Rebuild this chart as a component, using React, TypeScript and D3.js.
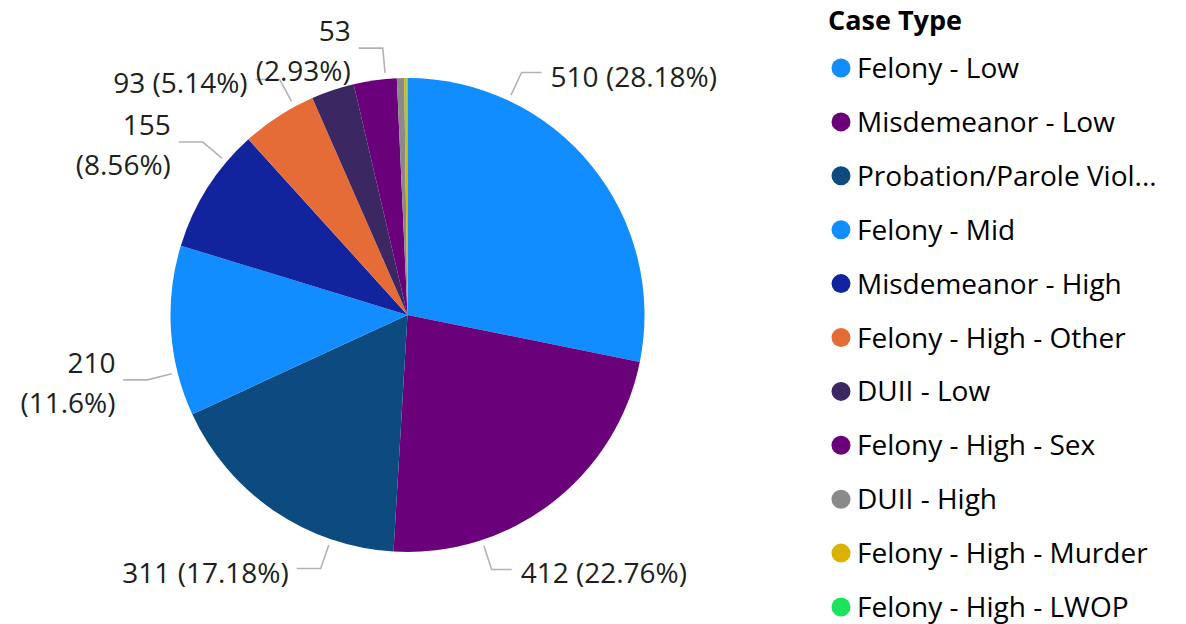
import React from "react";
import * as d3 from "d3";

const categories = [
  "Felony - Low",
  "Misdemeanor - Low",
  "Probation/Parole Violation",
  "Felony - Mid",
  "Misdemeanor - High",
  "Felony - High - Other",
  "DUII - Low",
  "Felony - High - Sex",
  "DUII - High",
  "Felony - High - Murder",
  "Felony - High - LWOP",
];
const values = [510, 412, 311, 210, 155, 93, 53, 53, 9, 3, 1];
const colors = [
  "#118DFF",
  "#6B007B",
  "#0C4A80",
  "#118DFF",
  "#12239E",
  "#E66C37",
  "#3B2862",
  "#6B007B",
  "#8A8A8A",
  "#D9B300",
  "#1BE35E",
];
const legendLabels = [
  "Felony - Low",
  "Misdemeanor - Low",
  "Probation/Parole Viol...",
  "Felony - Mid",
  "Misdemeanor - High",
  "Felony - High - Other",
  "DUII - Low",
  "Felony - High - Sex",
  "DUII - High",
  "Felony - High - Murder",
  "Felony - High - LWOP",
];
const legendTitle = "Case Type";

// label layout: leader angle (degrees clockwise from 12 o'clock), two-line wrap, or null if unlabeled
const labelAngles: (number | null)[] = [25.2, 161.7, 198.9, 256, 310.2, 331.5, null, 354.7, null, null, null];
const labelWrap = [false, false, false, true, true, false, false, true, false, false, false];

const W = 1186;
const H = 624;
const FONT = "'Open Sans', 'Noto Sans', sans-serif";

export default function App() {
  const cx = 407.5;
  const cy = 315;
  const R = 237;
  const total = d3.sum(values);
  const pie = d3
    .pie<number>()
    .sort(null)
    .value((d) => d)
    .startAngle(0)
    .endAngle(2 * Math.PI);
  const arcs = pie(values);
  const arc = d3.arc<d3.PieArcDatum<number>>().innerRadius(0).outerRadius(R);
  const fmt = (v: number) => {
    const p = (v / total) * 100;
    const s = d3.format(".2f")(p).replace(/0+$/, "").replace(/\.$/, "");
    return `(${s}%)`;
  };

  const legendY = d3
    .scaleLinear()
    .domain([0, categories.length - 1])
    .range([68, 607]);

  const labels = arcs.map((a, i) => {
    const ang = labelAngles[i];
    if (ang == null) return null;
    const t = (ang * Math.PI) / 180;
    const r0 = R + 6;
    const r1 = R + 31;
    const x0 = cx + r0 * Math.sin(t);
    const y0 = cy - r0 * Math.cos(t);
    const x1 = cx + r1 * Math.sin(t);
    const y1 = cy - r1 * Math.cos(t);
    const right = Math.sin(t) > 0;
    const x2 = x1 + (right ? 20 : -24);
    const tx = x2 + (right ? 9 : -8);
    const anchor = right ? "start" : "end";
    const v = values[i];
    return (
      <g key={"l" + i}>
        <polyline
          points={`${x0},${y0} ${x1},${y1} ${x2},${y1}`}
          fill="none"
          stroke="#B3B3B3"
          strokeWidth={1.6}
        />
        {labelWrap[i] ? (
          <text textAnchor={anchor} fontFamily={FONT} fontSize={28} fill="#201F1E">
            <tspan x={tx} y={y1 - 7}>{`${v}`}</tspan>
            <tspan x={tx} y={y1 + 33}>{fmt(v)}</tspan>
          </text>
        ) : (
          <text x={tx} y={y1 + 14} textAnchor={anchor} fontFamily={FONT} fontSize={28} fill="#201F1E">
            {`${v} ${fmt(v)}`}
          </text>
        )}
      </g>
    );
  });

  return (
    <svg width={W} height={H} style={{ position: "absolute", left: 0, top: 0, background: "#fff" }}>
      <g transform={`translate(${cx},${cy})`}>
        {arcs.map((a, i) => (
          <path key={i} d={arc(a) || ""} fill={colors[i]} />
        ))}
      </g>
      {labels}
      <text x={828} y={30} fontFamily={FONT} fontWeight={700} fontSize={27} fill="#000">
        {legendTitle}
      </text>
      {legendLabels.map((l, i) => (
        <g key={"lg" + i}>
          <circle cx={841} cy={legendY(i)} r={9.5} fill={colors[i]} />
          <text x={857} y={legendY(i) + 10} fontFamily={FONT} fontSize={28} fill="#000">
            {l}
          </text>
        </g>
      ))}
    </svg>
  );
}
